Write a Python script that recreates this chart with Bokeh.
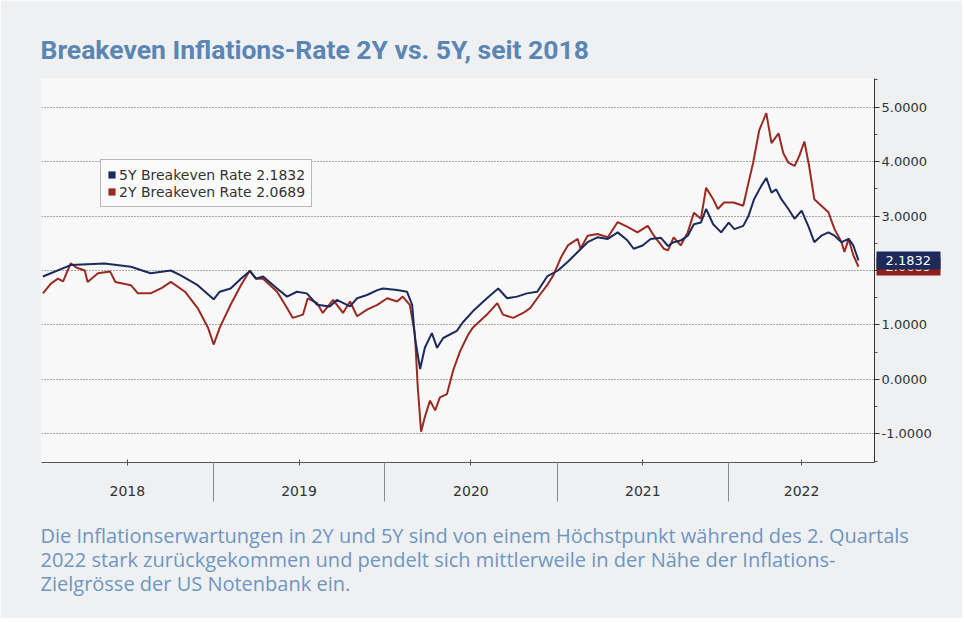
import pandas as pd
from bokeh.plotting import figure
from bokeh.models import (FixedTicker, Legend, LegendItem, Title, Range1d,
                          CustomJSTickFormatter, LinearAxis)
from bokeh.embed import file_html
from bokeh.resources import INLINE

# ---------------- data ----------------
dates_5y = [
    "2018-01-04", "2018-03-04", "2018-05-15", "2018-07-10", "2018-08-21", "2018-10-03",
    "2018-10-24", "2018-11-29", "2019-01-02", "2019-01-15", "2019-02-07", "2019-03-01",
    "2019-03-20", "2019-04-02", "2019-04-17", "2019-05-17", "2019-06-07", "2019-06-28",
    "2019-07-19", "2019-08-10", "2019-09-06", "2019-09-21", "2019-10-19", "2019-11-03",
    "2019-11-24", "2019-12-16", "2019-12-28", "2020-01-27", "2020-02-17", "2020-02-28",
    "2020-03-05", "2020-03-16", "2020-03-26", "2020-04-10", "2020-04-21", "2020-05-04",
    "2020-06-02", "2020-06-15", "2020-07-06", "2020-08-05", "2020-08-29", "2020-09-17",
    "2020-10-08", "2020-10-29", "2020-11-20", "2020-12-11", "2021-01-03", "2021-01-24",
    "2021-02-14", "2021-03-07", "2021-03-28", "2021-04-19", "2021-05-10", "2021-05-31",
    "2021-06-13", "2021-07-02", "2021-07-19", "2021-08-10", "2021-08-25", "2021-09-06",
    "2021-09-21", "2021-10-06", "2021-10-19", "2021-11-03", "2021-11-14", "2021-11-29",
    "2021-12-16", "2022-01-01", "2022-01-13", "2022-02-01", "2022-02-12", "2022-02-24",
    "2022-03-11", "2022-03-22", "2022-04-02", "2022-04-12", "2022-04-23", "2022-05-08",
    "2022-05-21", "2022-06-05", "2022-06-20", "2022-07-02", "2022-07-17", "2022-08-01",
    "2022-08-14", "2022-08-29", "2022-09-13", "2022-09-23", "2022-10-04",
]
rate_5y = [
    1.89, 2.10, 2.13, 2.07, 1.95, 2.00,
    1.91, 1.73, 1.47, 1.61, 1.67, 1.85,
    1.99, 1.85, 1.89, 1.67, 1.52, 1.61,
    1.58, 1.37, 1.34, 1.46, 1.34, 1.49,
    1.55, 1.64, 1.67, 1.64, 1.61, 1.37,
    0.76, 0.19, 0.58, 0.85, 0.58, 0.76,
    0.89, 1.05, 1.25, 1.49, 1.67, 1.49,
    1.52, 1.58, 1.61, 1.89, 2.00, 2.16,
    2.34, 2.52, 2.61, 2.58, 2.70, 2.55,
    2.40, 2.46, 2.58, 2.60, 2.45, 2.52,
    2.55, 2.64, 2.85, 2.88, 3.13, 2.85,
    2.70, 2.88, 2.76, 2.82, 3.00, 3.31,
    3.55, 3.70, 3.43, 3.49, 3.31, 3.13,
    2.95, 3.10, 2.80, 2.52, 2.64, 2.70,
    2.64, 2.52, 2.58, 2.46, 2.1832,
]

dates_2y = [
    "2018-01-04", "2018-01-21", "2018-02-05", "2018-02-16", "2018-03-04", "2018-03-17",
    "2018-04-03", "2018-04-09", "2018-05-01", "2018-05-27", "2018-06-07", "2018-07-10",
    "2018-07-25", "2018-08-21", "2018-09-14", "2018-10-03", "2018-11-02", "2018-11-29",
    "2018-12-21", "2019-01-02", "2019-01-15", "2019-02-07", "2019-03-01", "2019-03-20",
    "2019-04-02", "2019-04-17", "2019-05-17", "2019-06-07", "2019-06-19", "2019-07-11",
    "2019-07-21", "2019-08-10", "2019-08-22", "2019-09-13", "2019-10-04", "2019-10-19",
    "2019-11-03", "2019-11-24", "2019-12-16", "2020-01-06", "2020-01-27", "2020-02-08",
    "2020-02-23", "2020-03-05", "2020-03-11", "2020-03-18", "2020-03-26", "2020-04-06",
    "2020-04-17", "2020-04-27", "2020-05-12", "2020-05-25", "2020-06-09", "2020-06-26",
    "2020-07-06", "2020-08-05", "2020-08-27", "2020-09-08", "2020-09-30", "2020-10-21",
    "2020-11-05", "2020-11-20", "2020-12-11", "2020-12-24", "2021-01-10", "2021-01-24",
    "2021-02-14", "2021-02-20", "2021-03-07", "2021-03-28", "2021-04-19", "2021-05-10",
    "2021-05-31", "2021-06-21", "2021-07-13", "2021-07-26", "2021-08-16", "2021-08-25",
    "2021-09-06", "2021-09-21", "2021-10-06", "2021-10-19", "2021-11-03", "2021-11-14",
    "2021-11-29", "2021-12-09", "2021-12-22", "2022-01-11", "2022-02-01", "2022-02-12",
    "2022-02-22", "2022-03-07", "2022-03-22", "2022-04-02", "2022-04-17", "2022-04-27",
    "2022-05-08", "2022-05-21", "2022-05-31", "2022-06-11", "2022-06-21", "2022-07-02",
    "2022-07-17", "2022-08-01", "2022-08-14", "2022-08-29", "2022-09-04", "2022-09-13",
    "2022-09-23", "2022-10-04",
]
rate_2y = [
    1.58, 1.76, 1.85, 1.80, 2.13, 2.05,
    2.00, 1.79, 1.95, 1.98, 1.79, 1.73,
    1.58, 1.58, 1.68, 1.79, 1.61, 1.31,
    0.95, 0.64, 0.95, 1.37, 1.73, 2.00,
    1.85, 1.85, 1.61, 1.31, 1.13, 1.19,
    1.49, 1.40, 1.22, 1.46, 1.22, 1.43,
    1.16, 1.28, 1.37, 1.49, 1.43, 1.52,
    1.37, 0.82, -0.15, -0.96, -0.69, -0.39,
    -0.57, -0.33, -0.27, 0.16, 0.52, 0.82,
    0.95, 1.19, 1.40, 1.19, 1.13, 1.22,
    1.31, 1.49, 1.73, 1.91, 2.25, 2.46,
    2.58, 2.40, 2.64, 2.67, 2.61, 2.89,
    2.80, 2.70, 2.82, 2.64, 2.40, 2.37,
    2.61, 2.46, 2.70, 3.06, 2.95, 3.52,
    3.31, 3.13, 3.25, 3.25, 3.19, 3.61,
    3.98, 4.58, 4.89, 4.34, 4.52, 4.16,
    3.98, 3.92, 4.10, 4.37, 3.92, 3.31,
    3.19, 3.07, 2.76, 2.52, 2.34, 2.58,
    2.28, 2.0689,
]

year_labels = ["2018", "2019", "2020", "2021", "2022"]
y_ticks = [-1, 0, 1, 2, 3, 4, 5]
y_minor_ticks = [-1.5, -0.5, 0.5, 1.5, 2.5, 3.5, 4.5, 5.5]

title_text = "Breakeven Inflations-Rate 2Y vs. 5Y, seit 2018"
caption_lines = [
    "Die Inflationserwartungen in 2Y und 5Y sind von einem Höchstpunkt während des 2. Quartals",
    "2022 stark zurückgekommen und pendelt sich mittlerweile in der Nähe der Inflations-",
    "Zielgrösse der US Notenbank ein.",
]

# ---------------- style ----------------
NAVY = "#1c2a5c"
RED = "#9a2a22"
FLAG_RED = "#8e1f1a"
PAGE_BG = "#eef0f2"
CHART_BG = "#f8f8f8"
TITLE_BLUE = "#5a86b4"
CAPTION_BLUE = "#6e96c1"
AXIS_FONT = "DejaVu Sans"

W, H = 962, 618
FRAME_L, FRAME_R, FRAME_T, FRAME_B = 41, 874, 78, 466
Y0, Y1 = -1.527, 5.527

x_start = pd.Timestamp("2018-01-01")
x_end = pd.Timestamp("2022-11-07")


def ms(ts):
    return pd.Timestamp(ts).value / 1e6


p = figure(
    width=W, height=H,
    x_axis_type="datetime", y_axis_location="right",
    x_range=Range1d(ms(x_start), ms(x_end)), y_range=Range1d(Y0, Y1),
    output_backend="svg", toolbar_location=None,
    min_border_left=FRAME_L, min_border_right=W - FRAME_R,
    min_border_top=FRAME_T, min_border_bottom=H - FRAME_B,
    background_fill_color=CHART_BG, border_fill_color=PAGE_BG,
    outline_line_color=None,
)

# title
p.title.text = title_text
p.title.text_font = "Liberation Sans Narrow, Roboto"
p.title.text_font_size = "26.5px"
p.title.text_font_style = "bold"
p.title.text_color = TITLE_BLUE
p.title.align = "left"
p.title.offset = -1
p.title.standoff = 27

# lines
d2 = pd.to_datetime(dates_2y)
d5 = pd.to_datetime(dates_5y)
line2 = p.line(d2, rate_2y, color=RED, line_width=2)
line5 = p.line(d5, rate_5y, color=NAVY, line_width=2)

# y axis (right); the 2.0000 label is covered by the last-value flags
yax = p.yaxis[0]
yax.ticker = FixedTicker(ticks=y_ticks, minor_ticks=y_minor_ticks)
yax.formatter = CustomJSTickFormatter(
    args=dict(hide=2.0),
    code="return Math.abs(tick - hide) < 1e-9 ? '' : tick.toFixed(4);")
yax.major_label_text_font = AXIS_FONT
yax.major_label_text_font_size = "13px"
yax.major_label_text_color = "#333333"
yax.axis_line_color = "#333333"
yax.major_tick_line_color = "#333333"
yax.minor_tick_line_color = "#555555"
yax.major_tick_out = 5
yax.major_tick_in = 0
yax.minor_tick_out = 3
yax.minor_tick_in = 0
yax.major_label_standoff = 2

p.ygrid.grid_line_color = "#555555"
p.ygrid.grid_line_dash = "1 2"
p.ygrid.grid_line_width = 1
p.xgrid.grid_line_color = None


# last-value flags: extra right axes whose single (thick) tick forms the box
def flag_axis(val, col):
    return LinearAxis(
        ticker=FixedTicker(ticks=[val], minor_ticks=[val]),
        formatter=CustomJSTickFormatter(code="return tick.toFixed(4);"),
        axis_line_color=None, major_tick_line_color=None,
        major_tick_in=0, major_tick_out=0,
        minor_tick_line_color=col, minor_tick_line_width=18,
        minor_tick_in=58, minor_tick_out=6,
        major_label_standoff=-55, major_label_text_color="white",
        major_label_text_font=AXIS_FONT, major_label_text_font_size="13px",
    )


p.add_layout(flag_axis(rate_2y[-1], FLAG_RED), "right")
p.add_layout(flag_axis(rate_5y[-1], NAVY), "right")

# x axis: year labels at the middle of each visible year, long separators at year starts
years = [int(y) for y in year_labels]
mid_ticks = []
for y in years:
    a = max(pd.Timestamp(f"{y}-01-01"), x_start)
    b = min(pd.Timestamp(f"{y + 1}-01-01"), x_end)
    mid_ticks.append(ms(a + (b - a) / 2))
sep_ticks = [ms(f"{y}-01-01") for y in years[1:]]
xax = p.xaxis[0]
xax.ticker = FixedTicker(ticks=mid_ticks, minor_ticks=sep_ticks)
xax.formatter = CustomJSTickFormatter(code="return String(new Date(tick).getUTCFullYear());")
xax.major_label_text_font = AXIS_FONT
xax.major_label_text_font_size = "14px"
xax.major_label_text_color = "#333333"
xax.major_label_standoff = -16
xax.axis_line_color = "#555555"
xax.major_tick_line_color = "#555555"
xax.major_tick_out = 3
xax.major_tick_in = 3
xax.minor_tick_line_color = "#8a8a8a"
xax.minor_tick_out = 39
xax.minor_tick_in = 0

# legend with square swatches
a5 = p.varea(x=d5, y1=rate_5y, y2=rate_5y, fill_color=NAVY, visible=False)
a2 = p.varea(x=d2, y1=rate_2y, y2=rate_2y, fill_color=RED, visible=False)
legend = Legend(items=[
    LegendItem(label=f"5Y Breakeven Rate {rate_5y[-1]:.4f}", renderers=[a5]),
    LegendItem(label=f"2Y Breakeven Rate {rate_2y[-1]:.4f}", renderers=[a2]),
], location=(59, 255), orientation="vertical")
legend.label_text_font = AXIS_FONT
legend.label_text_font_size = "14px"
legend.label_text_color = "#333333"
legend.glyph_width = 9
legend.glyph_height = 9
legend.label_standoff = 3
legend.label_height = 17
legend.spacing = 0
legend.padding = 6
legend.margin = 0
legend.border_line_color = "#777777"
legend.border_line_width = 1
legend.background_fill_color = "#fbfbfb"
legend.inactive_fill_alpha = 0
p.add_layout(legend)

# caption below the chart
p.add_layout(Title(text="\n".join(caption_lines), align="left", offset=-1,
                   text_font="Open Sans", text_font_size="20px", text_font_style="normal",
                   text_color=CAPTION_BLUE, text_line_height=0.88, standoff=43), "below")

open("out.html", "w").write(file_html(p, INLINE))
